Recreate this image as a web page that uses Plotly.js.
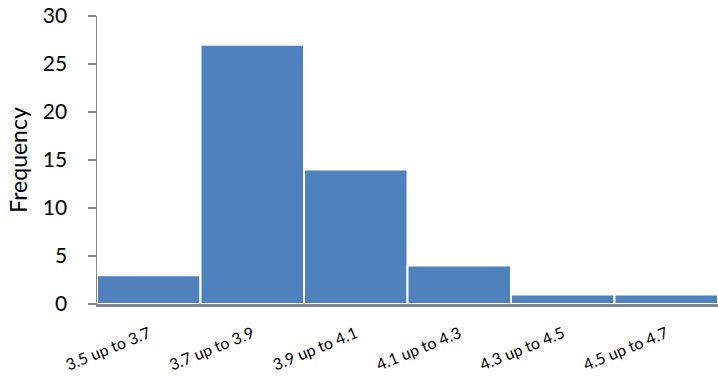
<!DOCTYPE html>
<html>
<head>
<meta charset="utf-8">
<script src="https://cdn.plot.ly/plotly-3.0.1.min.js"></script>
<style>html,body{margin:0;padding:0;background:#fff;}#chart{width:718px;height:385px;}</style>
</head>
<body>
<div id="chart"></div>
<script>
const categories = ["3.5 up to 3.7", "3.7 up to 3.9", "3.9 up to 4.1", "4.1 up to 4.3", "4.3 up to 4.5", "4.5 up to 4.7"];
const frequencies = [3, 27, 14, 4, 1, 1];
const yRange = [0, 30];
const yStep = 5;

Plotly.newPlot('chart', [{
  type: 'bar',
  x: categories,
  y: frequencies,
  marker: {color: '#4F81BD', line: {color: '#ffffff', width: 2}},
  hoverinfo: 'x+y'
}], {
  width: 718, height: 385,
  margin: {l: 97, r: 0, t: 16, b: 81},
  bargap: 0,
  paper_bgcolor: '#fff', plot_bgcolor: '#fff',
  font: {family: 'Lato, "Open Sans", sans-serif', color: '#000'},
  xaxis: {
    type: 'category', automargin: false,
    showline: true, linecolor: '#868686', linewidth: 2.5,
    ticks: '', tickangle: -22,
    tickfont: {size: 16},
    ticklabelstandoff: 12,
    showgrid: false, zeroline: false
  },
  yaxis: {
    range: yRange, tickmode: 'linear', tick0: 0, dtick: yStep, automargin: false,
    showline: true, linecolor: '#868686', linewidth: 1.5,
    ticks: 'outside', ticklen: 8, tickcolor: '#868686', tickwidth: 1.5,
    tickfont: {size: 21},
    ticksuffix: '\u00a0\u00a0\u00a0\u200b',
    showgrid: false, zeroline: false,
    title: {text: 'Frequency', font: {size: 23}, standoff: 8}
  },
  showlegend: false
}, {displayModeBar: false, staticPlot: true});
</script>
</body>
</html>
